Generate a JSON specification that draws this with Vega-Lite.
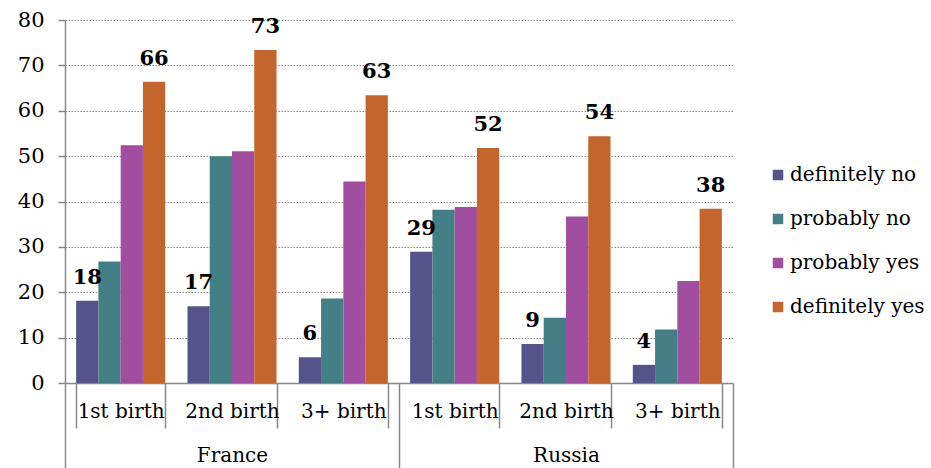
{
  "$schema": "https://vega.github.io/schema/vega-lite/v6.json",
  "width": 668,
  "height": 363,
  "autosize": {"type": "none"},
  "padding": {"left": 65, "top": 20, "right": 198, "bottom": 85},
  "background": "white",
  "config": {"font": "DejaVu Serif", "view": {"stroke": null}},
  "data": {"values": [
    {"country": "France", "group": "France|1st birth", "series": "definitely no", "value": 18.1},
    {"country": "France", "group": "France|1st birth", "series": "probably no", "value": 26.8},
    {"country": "France", "group": "France|1st birth", "series": "probably yes", "value": 52.4},
    {"country": "France", "group": "France|1st birth", "series": "definitely yes", "value": 66.4},
    {"country": "France", "group": "France|2nd birth", "series": "definitely no", "value": 16.9},
    {"country": "France", "group": "France|2nd birth", "series": "probably no", "value": 50.0},
    {"country": "France", "group": "France|2nd birth", "series": "probably yes", "value": 51.1},
    {"country": "France", "group": "France|2nd birth", "series": "definitely yes", "value": 73.4},
    {"country": "France", "group": "France|3+ birth", "series": "definitely no", "value": 5.7},
    {"country": "France", "group": "France|3+ birth", "series": "probably no", "value": 18.6},
    {"country": "France", "group": "France|3+ birth", "series": "probably yes", "value": 44.4},
    {"country": "France", "group": "France|3+ birth", "series": "definitely yes", "value": 63.4},
    {"country": "Russia", "group": "Russia|1st birth", "series": "definitely no", "value": 28.9},
    {"country": "Russia", "group": "Russia|1st birth", "series": "probably no", "value": 38.2},
    {"country": "Russia", "group": "Russia|1st birth", "series": "probably yes", "value": 38.8},
    {"country": "Russia", "group": "Russia|1st birth", "series": "definitely yes", "value": 51.8},
    {"country": "Russia", "group": "Russia|2nd birth", "series": "definitely no", "value": 8.6},
    {"country": "Russia", "group": "Russia|2nd birth", "series": "probably no", "value": 14.4},
    {"country": "Russia", "group": "Russia|2nd birth", "series": "probably yes", "value": 36.7},
    {"country": "Russia", "group": "Russia|2nd birth", "series": "definitely yes", "value": 54.4},
    {"country": "Russia", "group": "Russia|3+ birth", "series": "definitely no", "value": 4.0},
    {"country": "Russia", "group": "Russia|3+ birth", "series": "probably no", "value": 11.8},
    {"country": "Russia", "group": "Russia|3+ birth", "series": "probably yes", "value": 22.5},
    {"country": "Russia", "group": "Russia|3+ birth", "series": "definitely yes", "value": 38.4}
  ]},
  "layer": [
    {
      "mark": {"type": "bar"},
      "encoding": {
        "x": {
          "field": "group", "type": "nominal", "sort": null,
          "scale": {"paddingInner": 0.2, "paddingOuter": 0.1},
          "axis": {
            "title": null, "labelAngle": 0,
            "labelExpr": "split(datum.label, '|')[1]",
            "labelFontSize": 20, "labelColor": "#000", "labelPadding": -27,
            "tickBand": "extent", "tickSize": 45, "tickColor": "#888", "tickWidth": 1.5,
            "domainColor": "#888", "domainWidth": 1.5
          }
        },
        "xOffset": {"field": "series", "sort": ["definitely no", "probably no", "probably yes", "definitely yes"]},
        "y": {
          "field": "value", "type": "quantitative",
          "scale": {"domain": [0, 80]},
          "axis": {
            "title": null, "values": [0, 10, 20, 30, 40, 50, 60, 70, 80],
            "labelFontSize": 21, "labelColor": "#000", "labelPadding": 14,
            "tickSize": 7, "tickColor": "#888", "tickWidth": 1.5,
            "domainColor": "#888", "domainWidth": 1.5,
            "gridColor": "#888", "gridDash": [1.5, 1.5], "gridWidth": 1
          }
        },
        "color": {
          "field": "series", "type": "nominal",
          "scale": {"domain": ["definitely no", "probably no", "probably yes", "definitely yes"],
                    "range": ["#55538A", "#437F84", "#A14EA1", "#C4652D"]},
          "legend": {
            "title": null, "orient": "none", "legendX": 703, "legendY": 145,
            "symbolType": "square", "symbolSize": 110, "symbolStrokeWidth": 0,
            "labelFontSize": 20, "labelColor": "#000", "labelOffset": 2, "rowPadding": 24
          }
        }
      }
    },
    {
      "transform": [{"filter": "datum.series == 'definitely no' || datum.series == 'definitely yes'"}],
      "mark": {"type": "text", "fontWeight": "bold", "fontSize": 21, "baseline": "alphabetic", "dy": -17, "color": "#000"},
      "encoding": {
        "x": {"field": "group", "type": "nominal", "sort": null, "scale": {"paddingInner": 0.2, "paddingOuter": 0.1}, "axis": null},
        "xOffset": {"field": "series", "scale": {"domain": ["definitely no", "probably no", "probably yes", "definitely yes"]}},
        "y": {"field": "value", "type": "quantitative"},
        "text": {"field": "value", "type": "quantitative", "format": ".0f"}
      }
    },
    {
      "mark": {"type": "rule", "opacity": 0},
      "encoding": {
        "x": {
          "field": "country", "type": "nominal",
          "scale": {"paddingInner": 0, "paddingOuter": 0},
          "axis": {
            "orient": "bottom", "title": null, "labelAngle": 0, "domain": false,
            "labelFontSize": 20, "labelColor": "#000", "labelPadding": -23,
            "tickBand": "extent", "tickSize": 85, "tickColor": "#888", "tickWidth": 1.5
          }
        }
      }
    }
  ],
  "resolve": {"scale": {"x": "independent", "xOffset": "independent"}}
}
